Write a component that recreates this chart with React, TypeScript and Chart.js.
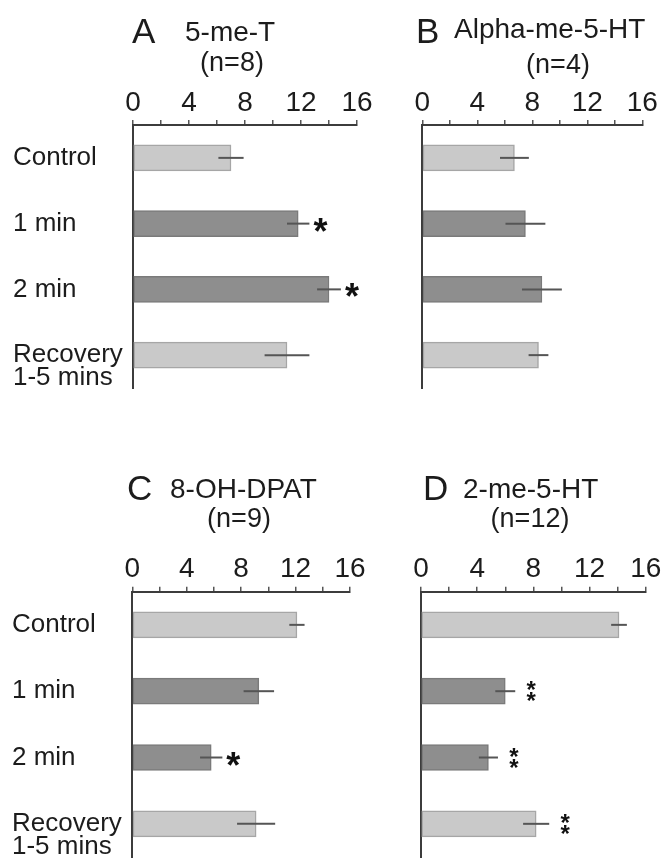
import React, { useEffect, useRef } from 'react';
import { Chart, registerables } from 'chart.js';

Chart.register(...registerables);

// ---------- data ----------
const categoryLines: string[][] = [['Control'], ['1 min'], ['2 min'], ['Recovery', '1-5 mins']];
const labeledTicks = [0, 4, 8, 12, 16];
const axisMin = 0;
const axisMax = 16;
const tickStep = 2;

const valuesA = [7.0, 11.8, 14.0, 11.0];
const errorsA = [0.9, 0.8, 0.85, 1.6];
const sigA = ['', '*', '*', ''];

const valuesB = [6.7, 7.5, 8.7, 8.45];
const errorsB = [1.05, 1.45, 1.45, 0.72];
const sigB = ['', '', '', ''];

const valuesC = [12.1, 9.3, 5.8, 9.1];
const errorsC = [0.56, 1.12, 0.82, 1.4];
const sigC = ['', '', '*', ''];

const valuesD = [14.1, 6.0, 4.8, 8.2];
const errorsD = [0.56, 0.71, 0.68, 0.93];
const sigD = ['', '**', '**', '**'];

const lightIdx = [true, false, false, true];

// ---------- styles ----------
const FONT = '"Liberation Sans", Arial, Helvetica, sans-serif';
const LIGHT = '#c9c9c9';
const LIGHT_BORDER = '#a6a6a6';
const DARK = '#8e8e8e';
const DARK_BORDER = '#7a7a7a';
const AXIS = '#3c3c3c';
const TEXT = '#1c1c1c';
const X_SCALE_H = 44;

type PanelProps = {
  left: number;
  top: number;
  width: number;
  height: number;
  pad: { left: number; right: number; top: number; bottom: number };
  yWidth: number;
  showLabels: boolean;
  letter: string;
  letterX: number;
  title: string;
  titleX: number;
  titleY: number;
  nText: string;
  nX: number;
  nY: number;
  values: number[];
  errors: number[];
  sig: string[];
};

function drawCentered(ctx: CanvasRenderingContext2D, text: string, x: number, cy: number, font: string, align: CanvasTextAlign) {
  ctx.font = font;
  ctx.textAlign = align;
  ctx.textBaseline = 'alphabetic';
  const m = ctx.measureText(text);
  ctx.fillText(text, x, cy + (m.actualBoundingBoxAscent - m.actualBoundingBoxDescent) / 2);
}

function Panel(p: PanelProps) {
  const ref = useRef<HTMLCanvasElement | null>(null);
  useEffect(() => {
    if (!ref.current) return;
    const labels = categoryLines.map((l) => (l.length > 1 ? ['', ...l] : l[0]));
    const overlay = {
      id: 'overlay' + p.letter,
      afterDatasetsDraw(chart: any) {
        const ctx = chart.ctx as CanvasRenderingContext2D;
        const xs = chart.scales.x;
        const ys = chart.scales.y;
        ctx.save();
        ctx.strokeStyle = '#555555';
        ctx.lineWidth = 2;
        p.values.forEach((v, i) => {
          const y = ys.getPixelForValue(i);
          const x1 = xs.getPixelForValue(v - p.errors[i]);
          const x2 = xs.getPixelForValue(v + p.errors[i]);
          ctx.beginPath();
          ctx.moveTo(x1, y);
          ctx.lineTo(x2, y);
          ctx.stroke();
          const s = p.sig[i];
          ctx.fillStyle = '#111';
          if (s === '*') {
            drawCentered(ctx, '*', x2 + 11, y + 1, `bold 36px ${FONT}`, 'center');
          } else if (s === '**') {
            drawCentered(ctx, '*', x2 + 16, y - 5.5, `bold 24px ${FONT}`, 'center');
            drawCentered(ctx, '*', x2 + 16, y + 5.5, `bold 24px ${FONT}`, 'center');
          }
        });
        ctx.restore();
      },
      afterDraw(chart: any) {
        const ctx = chart.ctx as CanvasRenderingContext2D;
        ctx.save();
        ctx.fillStyle = TEXT;
        drawCentered(ctx, p.letter, p.letterX, p.titleY, `35px ${FONT}`, 'left');
        drawCentered(ctx, p.title, p.titleX, p.titleY, `28px ${FONT}`, 'left');
        drawCentered(ctx, p.nText, p.nX, p.nY, `27px ${FONT}`, 'center');
        ctx.restore();
      },
    };
    const chart = new Chart(ref.current, {
      type: 'bar',
      data: {
        labels,
        datasets: [
          {
            data: p.values,
            backgroundColor: lightIdx.map((l) => (l ? LIGHT : DARK)),
            borderColor: lightIdx.map((l) => (l ? LIGHT_BORDER : DARK_BORDER)),
            borderWidth: 1.5,
            borderSkipped: false,
            barThickness: 26,
          },
        ],
      },
      options: {
        indexAxis: 'y',
        animation: false,
        responsive: false,
        maintainAspectRatio: false,
        layout: { padding: p.pad },
        plugins: {
          legend: { display: false },
          tooltip: { enabled: false },
          title: { display: false },
        },
        scales: {
          x: {
            type: 'linear',
            position: 'top',
            min: axisMin,
            max: axisMax,
            ticks: {
              stepSize: tickStep,
              autoSkip: false,
              maxRotation: 0,
              padding: 3,
              color: TEXT,
              font: { family: FONT, size: 28, lineHeight: 1 },
              callback: (v: any) => (labeledTicks.includes(Number(v)) ? String(v) : ''),
            },
            grid: {
              drawOnChartArea: false,
              drawTicks: true,
              tickLength: 5,
              color: '#555',
              lineWidth: 1.5,
            },
            border: { display: true, color: AXIS, width: 2 },
            afterFit: (s: any) => {
              s.height = X_SCALE_H;
              s.paddingLeft = 0;
              s.paddingRight = 0;
            },
          } as any,
          y: {
            type: 'category',
            offset: true,
            ticks: {
              display: p.showLabels,
              autoSkip: false,
              crossAlign: 'far',
              padding: 0,
              color: TEXT,
              font: { family: FONT, size: 26, lineHeight: 0.88 },
            },
            grid: { display: false },
            border: { display: true, color: AXIS, width: 2 },
            afterFit: (s: any) => {
              s.width = p.yWidth;
              s.paddingTop = 0;
              s.paddingBottom = 0;
            },
          } as any,
        },
      },
      plugins: [overlay],
    } as any);
    return () => chart.destroy();
  }, []);
  return (
    <canvas
      ref={ref}
      width={p.width}
      height={p.height}
      style={{ position: 'absolute', left: p.left, top: p.top, width: p.width, height: p.height }}
    />
  );
}

export default function App() {
  return (
    <div style={{ position: 'absolute', left: 0, top: 0, width: 662, height: 860, background: '#fff', overflow: 'hidden' }}>
      <Panel
        left={0} top={0} width={385} height={430}
        pad={{ left: 13, right: 28, top: 125 - X_SCALE_H, bottom: 42 }}
        yWidth={120} showLabels
        letter="A" letterX={132} title="5-me-T" titleX={185} titleY={31}
        nText="(n=8)" nX={232} nY={64}
        values={valuesA} errors={errorsA} sig={sigA}
      />
      <Panel
        left={385} top={0} width={277} height={430}
        pad={{ left: 0, right: 19.7, top: 125 - X_SCALE_H, bottom: 42 }}
        yWidth={37.3} showLabels={false}
        letter="B" letterX={31} title="Alpha-me-5-HT" titleX={69} titleY={31}
        nText="(n=4)" nX={173} nY={66}
        values={valuesB} errors={errorsB} sig={sigB}
      />
      <Panel
        left={0} top={430} width={385} height={430}
        pad={{ left: 12, right: 35, top: 161.7 - X_SCALE_H, bottom: 3 }}
        yWidth={120.3} showLabels
        letter="C" letterX={127} title="8-OH-DPAT" titleX={170} titleY={58}
        nText="(n=9)" nX={239} nY={90}
        values={valuesC} errors={errorsC} sig={sigC}
      />
      <Panel
        left={385} top={430} width={277} height={430}
        pad={{ left: 0, right: 16.3, top: 161.7 - X_SCALE_H, bottom: 3 }}
        yWidth={36} showLabels={false}
        letter="D" letterX={38} title="2-me-5-HT" titleX={78} titleY={58}
        nText="(n=12)" nX={145} nY={90}
        values={valuesD} errors={errorsD} sig={sigD}
      />
    </div>
  );
}
